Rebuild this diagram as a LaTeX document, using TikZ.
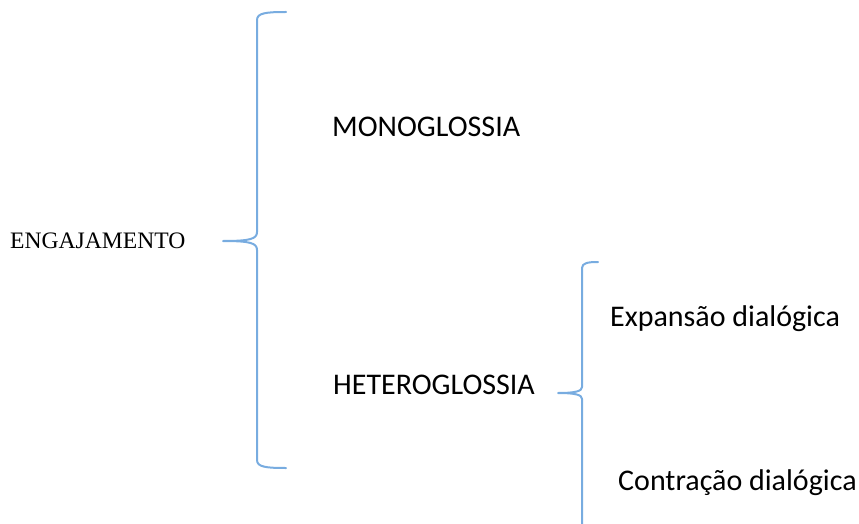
\documentclass[tikz,border=0pt]{standalone}
\usepackage{fontspec}
\setmainfont{Carlito}
\newfontfamily\serifface{Liberation Serif}
\definecolor{bracecol}{RGB}{120,172,224}
\begin{document}
\begin{tikzpicture}[x=1pt,y=-1pt,
  bracestyle/.style={draw=bracecol,line width=2pt,line cap=round,line join=round},
  lbl/.style={anchor=base west,inner sep=0pt,font=\fontsize{30}{35}\selectfont},
  rootlbl/.style={anchor=base west,inner sep=0pt,font=\serifface\fontsize{23.6}{28}\selectfont}]
\useasboundingbox (0,0) rectangle (859,524);
\node[rootlbl] (eng) at (10,248) {ENGAJAMENTO};
\node[lbl] (mono) at (332,136) {MONOGLOSSIA};
\node[lbl] (hetero) at (333,394) {HETEROGLOSSIA};
\node[lbl] (exp) at (610,326) {Expansão dialógica};
\node[lbl] (contr) at (618,490) {Contração dialógica};
% brace 1
\coordinate (b1tip) at (223,241);
\draw[bracestyle] (286,12) .. controls (266,12) and (257,13) .. (257,20) -- (257,232)
  .. controls (257,239) and (250,241) .. (b1tip)
  .. controls (250,241) and (257,243) .. (257,250) -- (257,460)
  .. controls (257,467) and (266,468) .. (286,468);
% brace 2
\coordinate (b2tip) at (558,393);
\draw[bracestyle] (598,262) .. controls (588,262) and (582,263) .. (582,268) -- (582,387)
  .. controls (582,391) and (576,393) .. (b2tip)
  .. controls (576,393) and (582,395) .. (582,399) -- (582,530);
\end{tikzpicture}
\end{document}
